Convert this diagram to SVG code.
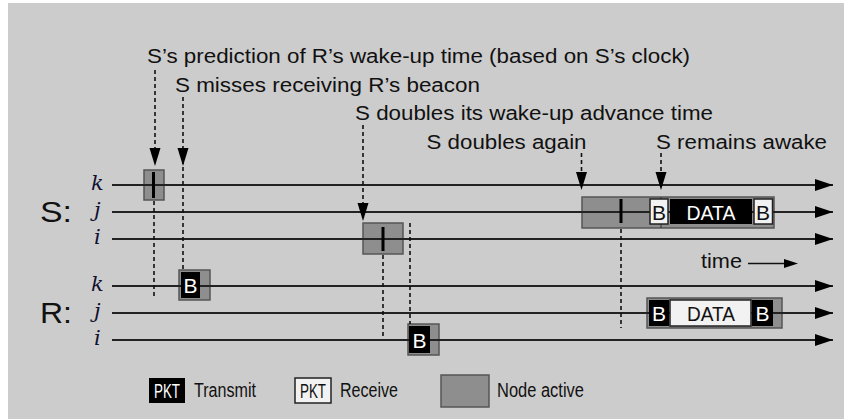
<svg xmlns="http://www.w3.org/2000/svg" width="844" height="419" viewBox="0 0 844 419">
<style>
text{font-family:"Liberation Sans",Arial,sans-serif;fill:#111}
.ann{font-size:20px}
.var{font-family:"DejaVu Serif","Liberation Serif",serif;font-style:italic;font-size:21px;fill:#111130}
.big{font-size:30px}
.tl{stroke:#222;stroke-width:1.8;fill:none}
.dash{stroke:#111;stroke-width:1.6;stroke-dasharray:4,3;fill:none}
.act{fill:#8e8e8e;stroke:#555;stroke-width:1.5}
.tx{fill:#000}
.rx{fill:#f2f2f2;stroke:#222;stroke-width:1.5}
.bar{fill:#000}
.wt{fill:#fff;font-size:21px}
.bt{fill:#111;font-size:21px}
.leg{font-size:20px}
.ah{fill:#000}
</style>
<defs>
<marker id="lineArrow" markerUnits="userSpaceOnUse" markerWidth="19" markerHeight="13" refX="18" refY="6.5" orient="auto"><path d="M0,0.5 L18,6.5 L0,12.5 z" fill="#000"/></marker>
</defs>
<rect x="8" y="3" width="836" height="416" fill="#cccccc"/>

<g id="labels">
<text class="big" x="40" y="222" textLength="32" lengthAdjust="spacingAndGlyphs">S:</text>
<text class="big" x="40" y="323" textLength="32" lengthAdjust="spacingAndGlyphs">R:</text>
<text class="var" x="91" y="190">k</text>
<text class="var" x="94" y="217">j</text>
<text class="var" x="94" y="244">i</text>
<text class="var" x="91" y="291">k</text>
<text class="var" x="94" y="318">j</text>
<text class="var" x="94" y="345">i</text>
</g>

<g id="active-boxes">
<rect class="act" x="144" y="170" width="20" height="30"/>
<rect class="act" x="363" y="223" width="40" height="31"/>
<rect class="act" x="582" y="197" width="192" height="31"/>
<rect class="act" x="179" y="270" width="31" height="30"/>
<rect class="act" x="408" y="324" width="31" height="31"/>
<rect class="act" x="647" y="298" width="135" height="30"/>
</g>

<g id="timelines">
<line id="S-k" class="tl" x1="112" y1="185" x2="833" y2="185" marker-end="url(#lineArrow)"/>
<line id="S-j" class="tl" x1="112" y1="212" x2="833" y2="212" marker-end="url(#lineArrow)"/>
<line id="S-i" class="tl" x1="112" y1="239" x2="833" y2="239" marker-end="url(#lineArrow)"/>
<line id="R-k" class="tl" x1="112" y1="286" x2="833" y2="286" marker-end="url(#lineArrow)"/>
<line id="R-j" class="tl" x1="112" y1="313" x2="833" y2="313" marker-end="url(#lineArrow)"/>
<line id="R-i" class="tl" x1="112" y1="340" x2="833" y2="340" marker-end="url(#lineArrow)"/>
<line x1="661" y1="197" x2="661" y2="228" stroke="#333" stroke-width="1"/>
</g>

<g id="S-k-wakeup"><rect class="bar" x="152" y="172" width="3" height="26"/></g>
<g id="S-i-wakeup"><rect class="bar" x="381.5" y="227" width="3" height="24"/></g>
<g id="S-j-wakeup"><rect class="bar" x="619.5" y="199" width="3" height="24"/></g>

<g id="R-k-beacon">
<rect class="tx" x="181" y="272" width="19" height="26"/>
<text class="wt" x="190.5" y="293" text-anchor="middle">B</text>
</g>
<g id="R-i-beacon">
<rect class="tx" x="409" y="326" width="21" height="27"/>
<text class="wt" x="419.5" y="347.5" text-anchor="middle">B</text>
</g>

<g id="S-j-exchange">
<rect class="rx" x="650" y="199" width="18" height="25"/>
<text class="bt" x="659" y="219.5" text-anchor="middle">B</text>
<rect class="tx" x="670" y="199" width="82" height="25"/>
<text class="wt" x="711" y="219.5" text-anchor="middle" textLength="49" lengthAdjust="spacingAndGlyphs">DATA</text>
<rect class="rx" x="754" y="199" width="18.5" height="25"/>
<text class="bt" x="763" y="219.5" text-anchor="middle">B</text>
</g>

<g id="R-j-exchange">
<rect class="tx" x="649" y="300" width="20" height="26"/>
<text class="wt" x="659" y="321" text-anchor="middle">B</text>
<rect class="rx" x="670" y="300" width="81" height="26"/>
<text class="bt" x="711" y="321" text-anchor="middle" textLength="48" lengthAdjust="spacingAndGlyphs">DATA</text>
<rect class="tx" x="752" y="300" width="21" height="26"/>
<text class="wt" x="762.5" y="321" text-anchor="middle">B</text>
</g>

<g id="annotations">
<text class="ann" x="147" y="63" textLength="543" lengthAdjust="spacingAndGlyphs">S’s prediction of R’s wake-up time (based on S’s clock)</text>
<text class="ann" x="175" y="92" textLength="305" lengthAdjust="spacingAndGlyphs">S misses receiving R’s beacon</text>
<text class="ann" x="355" y="120" textLength="358" lengthAdjust="spacingAndGlyphs">S doubles its wake-up advance time</text>
<text class="ann" x="426.5" y="149" textLength="160" lengthAdjust="spacingAndGlyphs">S doubles again</text>
<text class="ann" x="656" y="149" textLength="171" lengthAdjust="spacingAndGlyphs">S remains awake</text>
</g>

<g id="connectors">
<line class="dash" x1="155" y1="70" x2="155" y2="150"/>
<path class="ah" d="M149.5,148 L160.5,148 L155,166 z"/>
<line class="dash" x1="183" y1="97" x2="183" y2="270"/>
<path class="ah" d="M177.5,148 L188.5,148 L183,166 z"/>
<line class="dash" x1="363" y1="125" x2="363" y2="205"/>
<path class="ah" d="M357.5,203 L368.5,203 L363,221 z"/>
<line class="dash" x1="581.5" y1="153" x2="581.5" y2="175"/>
<path class="ah" d="M576,172 L587,172 L581.5,190 z"/>
<line class="dash" x1="661" y1="153" x2="661" y2="175"/>
<path class="ah" d="M655.5,172 L666.5,172 L661,190 z"/>
<line class="dash" x1="154" y1="201" x2="154" y2="297"/>
<line class="dash" x1="383" y1="255" x2="383" y2="339"/>
<line class="dash" x1="410" y1="223" x2="410" y2="324"/>
<line class="dash" x1="621" y1="229" x2="621" y2="328"/>
</g>

<g id="time-axis-label">
<text class="ann" x="701" y="268" textLength="41" lengthAdjust="spacingAndGlyphs">time</text>
<line x1="748" y1="263.5" x2="786" y2="263.5" stroke="#111" stroke-width="1.5"/>
<path d="M784,259 L798,263.5 L784,268 z" fill="#000"/>
</g>

<g id="legend">
<rect class="tx" x="149" y="378" width="36" height="25"/>
<text class="wt" x="167" y="397.5" text-anchor="middle" font-size="19" textLength="26" lengthAdjust="spacingAndGlyphs">PKT</text>
<text class="leg" x="194" y="397" textLength="62" lengthAdjust="spacingAndGlyphs">Transmit</text>
<rect class="rx" x="295" y="378" width="36" height="25"/>
<text class="bt" x="313" y="397.5" text-anchor="middle" font-size="19" textLength="26" lengthAdjust="spacingAndGlyphs">PKT</text>
<text class="leg" x="340" y="397" textLength="58" lengthAdjust="spacingAndGlyphs">Receive</text>
<rect class="act" x="441" y="375" width="48" height="32"/>
<text class="leg" x="497" y="397" textLength="87" lengthAdjust="spacingAndGlyphs">Node active</text>
</g>
</svg>
